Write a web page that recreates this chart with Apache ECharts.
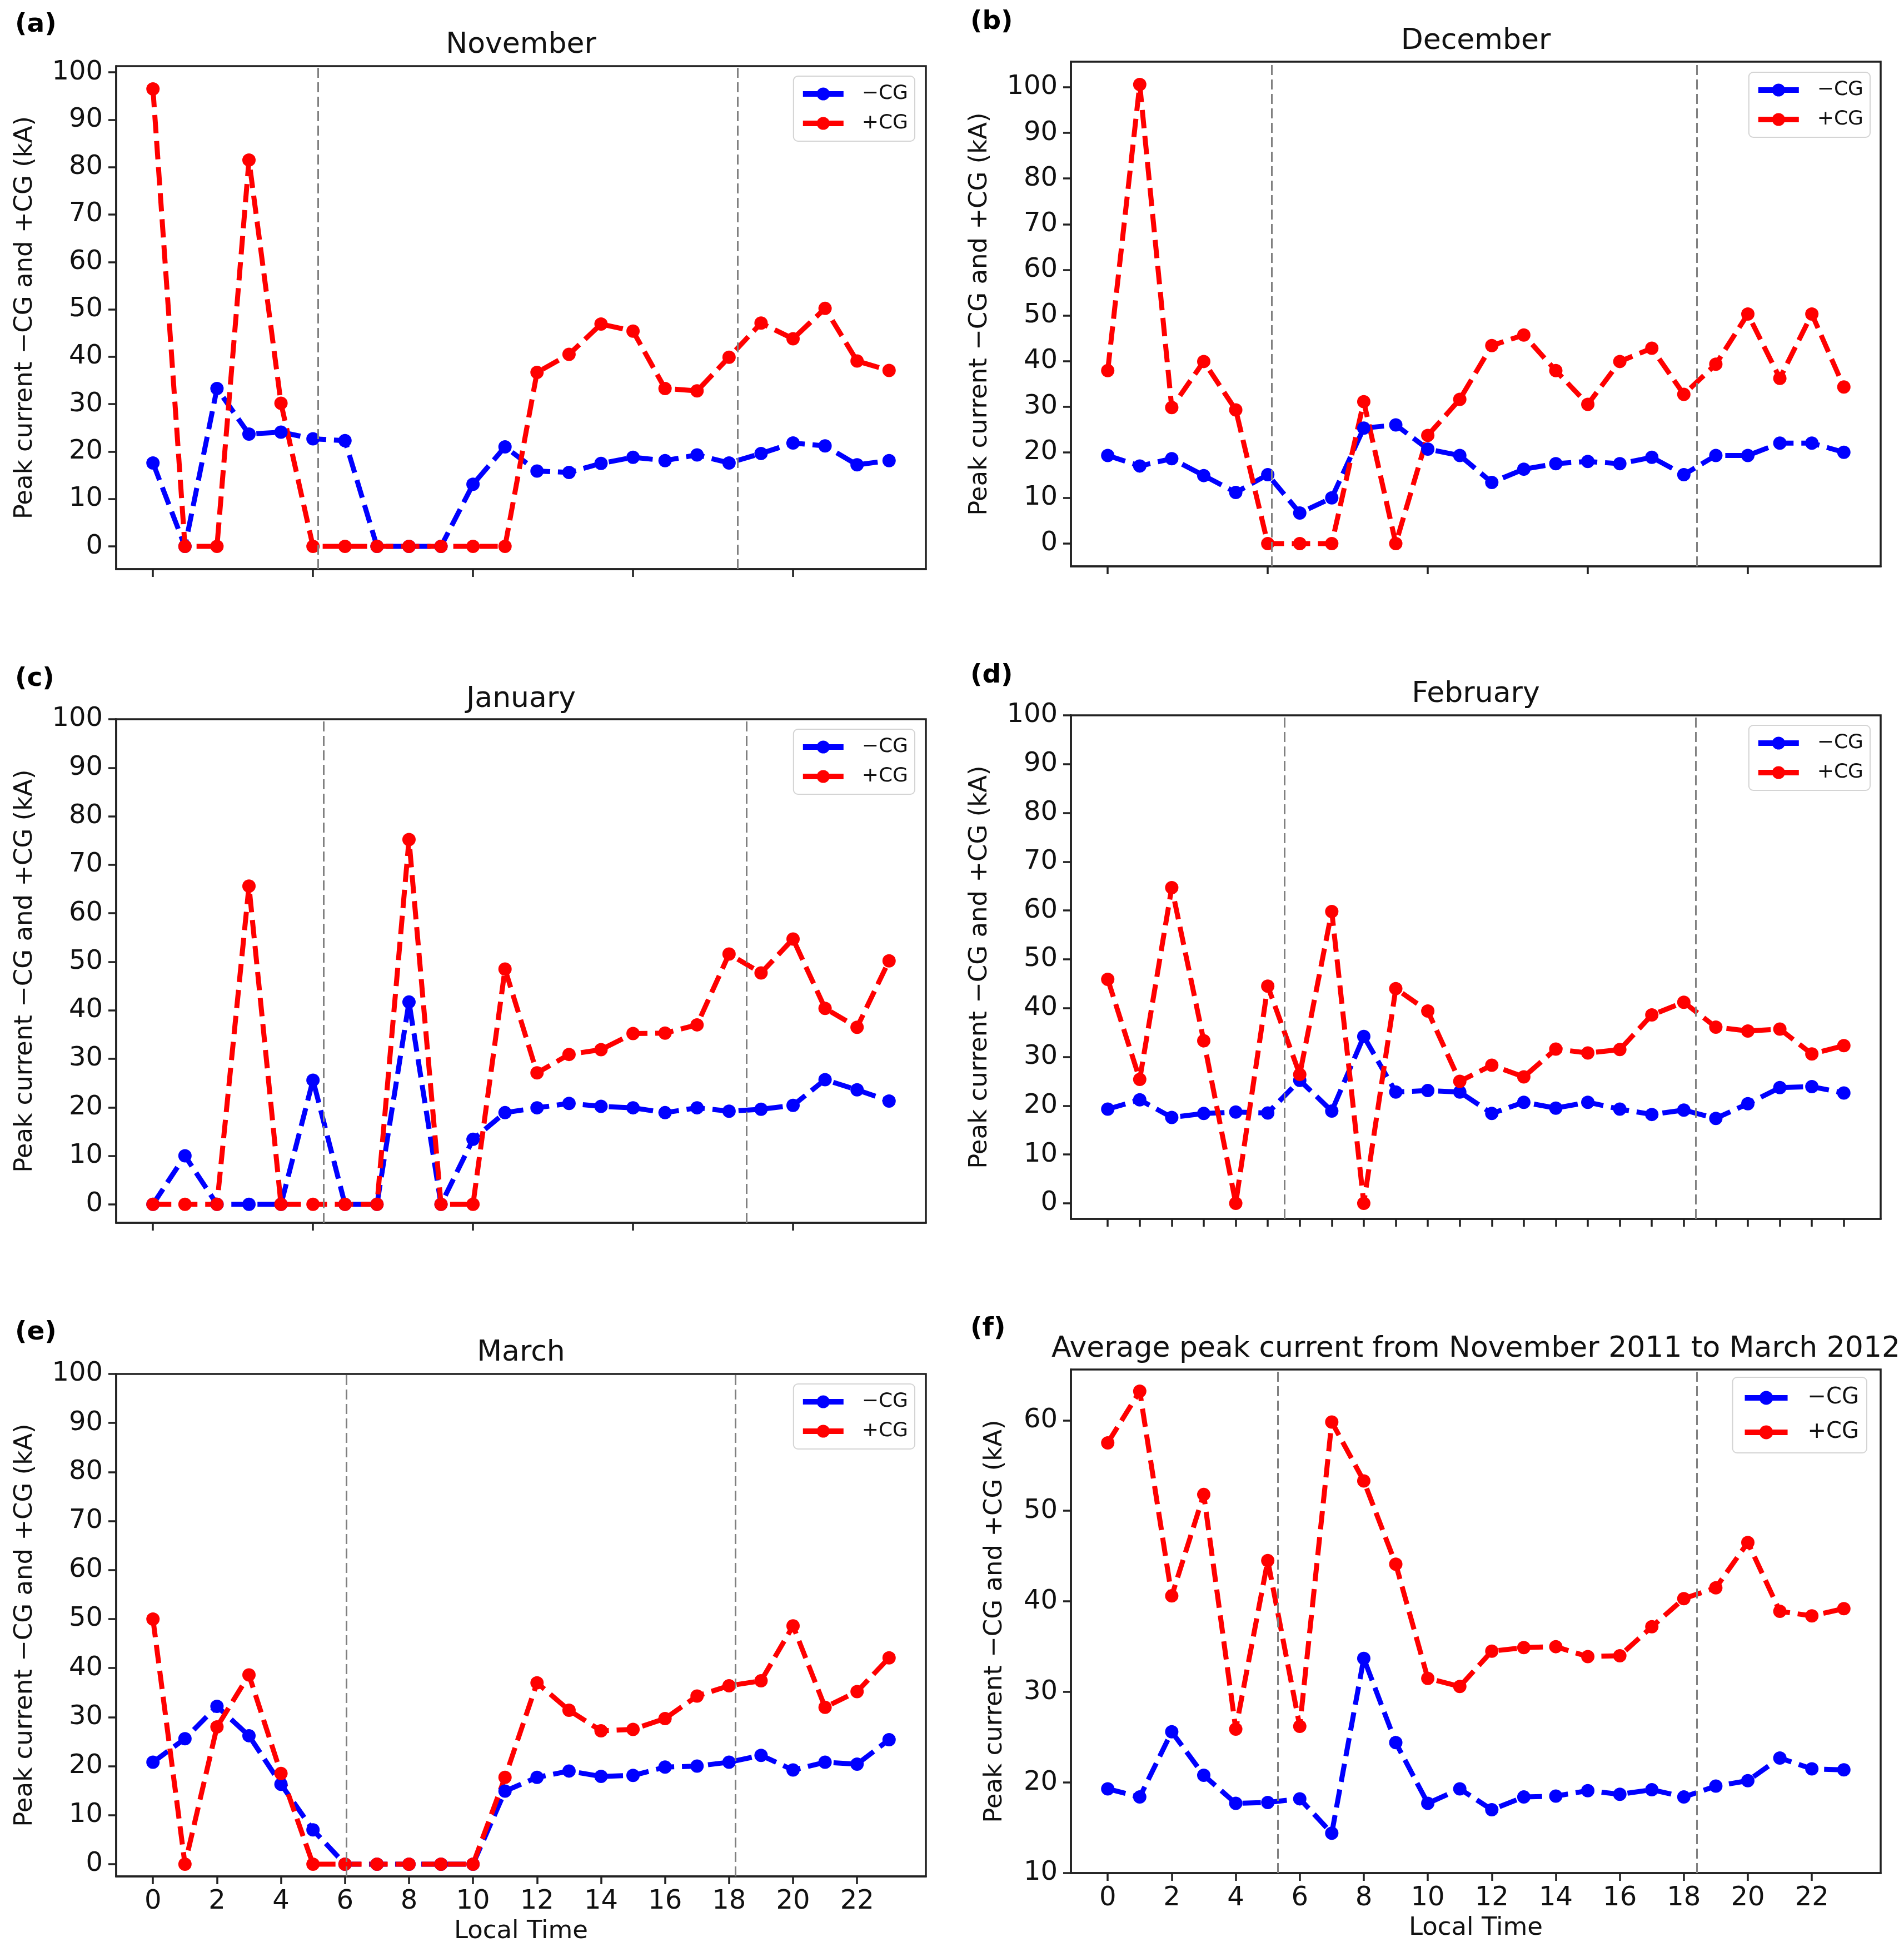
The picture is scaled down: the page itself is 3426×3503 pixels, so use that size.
<!DOCTYPE html>
<html>
<head>
<meta charset="utf-8">
<script src="https://cdn.jsdelivr.net/npm/echarts@6/dist/echarts.min.js"></script>
<style>
html,body{margin:0;padding:0;background:#fff}
#chart{width:3426px;height:3503px}
</style>
</head>
<body>
<div id="chart"></div>
<script>
// local hour of each point
const hours = [0,1,2,3,4,5,6,7,8,9,10,11,12,13,14,15,16,17,18,19,20,21,22,23];

// peak current (kA), -CG and +CG, per month
const novNeg = [17.6,0,33.3,23.7,24.1,22.7,22.3,0,0,0,13.1,21.0,15.9,15.6,17.5,18.8,18.1,19.3,17.6,19.6,21.8,21.2,17.2,18.1];
const novPos = [96.5,0,0,81.5,30.2,0,0,0,0,0,0,0,36.7,40.5,46.9,45.4,33.3,32.8,39.9,47.1,43.8,50.2,39.1,37.1];
const decNeg = [19.3,17.0,18.6,14.9,11.2,15.1,6.7,10.0,25.3,26.0,20.7,19.3,13.4,16.3,17.5,18.0,17.5,18.9,15.1,19.3,19.3,22.0,22.0,20.0];
const decPos = [37.9,100.6,29.8,39.9,29.3,0,0,0,31.1,0,23.7,31.6,43.4,45.7,37.9,30.5,39.9,42.8,32.7,39.3,50.3,36.2,50.3,34.3];
const janNeg = [0,10.0,0,0,0,25.6,0,0,41.7,0,13.4,18.9,19.9,20.8,20.2,19.9,18.9,19.9,19.2,19.6,20.4,25.7,23.6,21.3];
const janPos = [0,0,0,65.6,0,0,0,0,75.2,0,0,48.5,27.1,30.9,31.9,35.2,35.3,37.0,51.6,47.7,54.7,40.4,36.5,50.2];
const febNeg = [19.3,21.2,17.6,18.4,18.7,18.5,25.2,18.9,34.2,22.8,23.1,22.8,18.4,20.7,19.5,20.7,19.3,18.2,19.1,17.4,20.4,23.7,23.9,22.6];
const febPos = [45.9,25.4,64.7,33.3,0,44.5,26.4,59.8,0,44.0,39.4,25.0,28.3,25.9,31.6,30.8,31.5,38.6,41.2,36.1,35.3,35.7,30.6,32.3];
const marNeg = [20.8,25.6,32.2,26.2,16.3,7.0,0,0,0,0,0,14.9,17.7,19.0,17.9,18.1,19.8,20.0,20.8,22.2,19.2,20.8,20.4,25.4];
const marPos = [50.0,0,28.0,38.6,18.5,0,0,0,0,0,0,17.7,37.0,31.4,27.2,27.5,29.7,34.3,36.4,37.4,48.6,32.0,35.2,42.1];
const avgNeg = [19.3,18.4,25.6,20.8,17.7,17.8,18.2,14.4,33.7,24.4,17.7,19.3,17.0,18.4,18.5,19.1,18.7,19.2,18.4,19.6,20.2,22.7,21.5,21.4];
const avgPos = [57.5,63.2,40.6,51.8,25.9,44.5,26.2,59.8,53.3,44.1,31.5,30.6,34.5,34.9,35.0,33.9,34.0,37.2,40.3,41.5,46.5,38.9,38.4,39.2];

// sunrise / sunset marks (local hour)
const novSun = [5.15, 18.27];
const decSun = [5.13, 18.41];
const janSun = [5.33, 18.54];
const febSun = [5.52, 18.38];
const marSun = [6.04, 18.19];
const avgSun = [5.31, 18.41];

// tick values
const yTicks100 = [0,10,20,30,40,50,60,70,80,90,100];
const yTicksAvg = [10,20,30,40,50,60];
const xTicks5 = [0,5,10,15,20];
const xTicksAll = hours;
const xTicks2 = [0,2,4,6,8,10,12,14,16,18,20,22];

const FONT = 'DejaVu Sans';
const INK = '#111';
const NEG = '\u2212CG', POS = '+CG';

const panels = [
  {tag:'(a)', title:'November', neg:novNeg, pos:novPos, sun:novSun, yMin:-4.8, yMax:101.3, yTicks:yTicks100, xTicks:xTicks5, xLab:false,
   left:209, top:119, h:905, tagX:27, tagY:45, titleY:81, nameGap:141, legRight:1780, legTop:137},
  {tag:'(b)', title:'December', neg:decNeg, pos:decPos, sun:decSun, yMin:-5.0, yMax:105.6, yTicks:yTicks100, xTicks:xTicks5, xLab:false,
   left:1927, top:111, h:908, tagX:1746, tagY:40, titleY:74, nameGap:141, legRight:61, legTop:130},
  {tag:'(c)', title:'January', neg:janNeg, pos:janPos, sun:janSun, yMin:-3.8, yMax:100, yTicks:yTicks100, xTicks:xTicks5, xLab:false,
   left:209, top:1294, h:906, tagX:27, tagY:1222, titleY:1258, nameGap:141, legRight:1780, legTop:1312},
  {tag:'(d)', title:'February', neg:febNeg, pos:febPos, sun:febSun, yMin:-3.2, yMax:100, yTicks:yTicks100, xTicks:xTicksAll, xLab:false,
   left:1927, top:1287, h:906, tagX:1746, tagY:1216, titleY:1249, nameGap:141, legRight:61, legTop:1305},
  {tag:'(e)', title:'March', neg:marNeg, pos:marPos, sun:marSun, yMin:-2.5, yMax:100, yTicks:yTicks100, xTicks:xTicks2, xLab:true,
   left:209, top:2472, h:904, tagX:27, tagY:2398, titleY:2434, nameGap:141, legRight:1780, legTop:2490},
  {tag:'(f)', title:'Average peak current from November 2011 to March 2012', neg:avgNeg, pos:avgPos, sun:avgSun, yMin:10, yMax:65.6, yTicks:yTicksAvg, xTicks:xTicks2, xLab:true,
   left:1927, top:2464, h:906, tagX:1746, tagY:2391, titleY:2427, nameGap:114, legRight:67, legTop:2478, bigLegend:true}
];
const GW = 1457;

const grid = [], xAxis = [], yAxis = [], series = [], legend = [], graphic = [];

panels.forEach((p, i) => {
  grid.push({left:p.left, top:p.top, width:GW, height:p.h, show:true, borderColor:'#222', borderWidth:3.5, backgroundColor:'#fff'});

  xAxis.push({
    type:'value', gridIndex:i, min:-1.15, max:24.15,
    axisLine:{show:true, onZero:false, lineStyle:{color:'#222', width:3.5}},
    axisTick:{show:true, length:14, lineStyle:{color:'#222', width:3.5}, customValues:p.xTicks},
    axisLabel:{show:p.xLab, customValues:p.xTicks, fontFamily:FONT, fontSize:48, color:INK, margin:22},
    splitLine:{show:false},
    name:p.xLab ? 'Local Time' : '', nameLocation:'middle', nameGap:77,
    nameTextStyle:{fontFamily:FONT, fontSize:45, color:INK}
  });

  yAxis.push({
    type:'value', gridIndex:i, min:p.yMin, max:p.yMax,
    axisLine:{show:true, onZero:false, lineStyle:{color:'#222', width:3.5}},
    axisTick:{show:true, length:14, lineStyle:{color:'#222', width:3.5}, customValues:p.yTicks},
    axisLabel:{customValues:p.yTicks, fontFamily:FONT, fontSize:48, color:INK, margin:24},
    splitLine:{show:false},
    name:'Peak current \u2212CG and +CG (kA)', nameLocation:'middle', nameGap:p.nameGap,
    nameTextStyle:{fontFamily:FONT, fontSize:45, color:INK}
  });

  const mk = (name, arr, color) => ({
    type:'line', name, xAxisIndex:i, yAxisIndex:i,
    data:hours.map((h, k) => [h, arr[k]]),
    symbol:'circle', symbolSize:24, showAllSymbol:true,
    lineStyle:{color, width:9, type:[33,14]},
    itemStyle:{color},
    animation:false, silent:true
  });
  const sNeg = mk(NEG, p.neg, '#0000ff');
  const sPos = mk(POS, p.pos, '#ff0000');
  sPos.markLine = {
    silent:true, symbol:['none','none'], label:{show:false}, animation:false,
    lineStyle:{color:'#808080', width:3, type:[18,8]},
    data:p.sun.map(v => ({xAxis:v}))
  };
  series.push(sNeg, sPos);

  const big = !!p.bigLegend;
  legend.push({
    data:[NEG, POS], orient:'vertical', right:p.legRight, top:p.legTop,
    itemWidth:big ? 77 : 73, itemHeight:big ? 31 : 29, itemGap:big ? 22 : 17,
    padding:big ? [17,14,17,17] : [14,12,14,12],
    lineStyle:{width:10, type:'solid'},
    backgroundColor:'rgba(255,255,255,0.8)', borderColor:'#d4d4d4', borderWidth:2, borderRadius:8,
    textStyle:{fontFamily:FONT, fontSize:big ? 40 : 36, color:INK, padding:[0,0,0,big ? 31 : 28]},
    selectedMode:false
  });

  graphic.push({type:'text', x:p.left + GW / 2, y:p.titleY,
    style:{text:p.title, fontFamily:FONT, fontSize:52, fill:INK, textAlign:'center', textVerticalAlign:'middle'}});
  graphic.push({type:'text', x:p.tagX, y:p.tagY,
    style:{text:p.tag, fontFamily:FONT, fontSize:47, fontWeight:'bold', fill:'#000', textAlign:'left', textVerticalAlign:'middle'}});
});

const chart = echarts.init(document.getElementById('chart'), null, {renderer:'canvas'});
chart.setOption({
  backgroundColor:'#fff',
  animation:false,
  grid, xAxis, yAxis, series, legend, graphic
});
</script>
</body>
</html>
